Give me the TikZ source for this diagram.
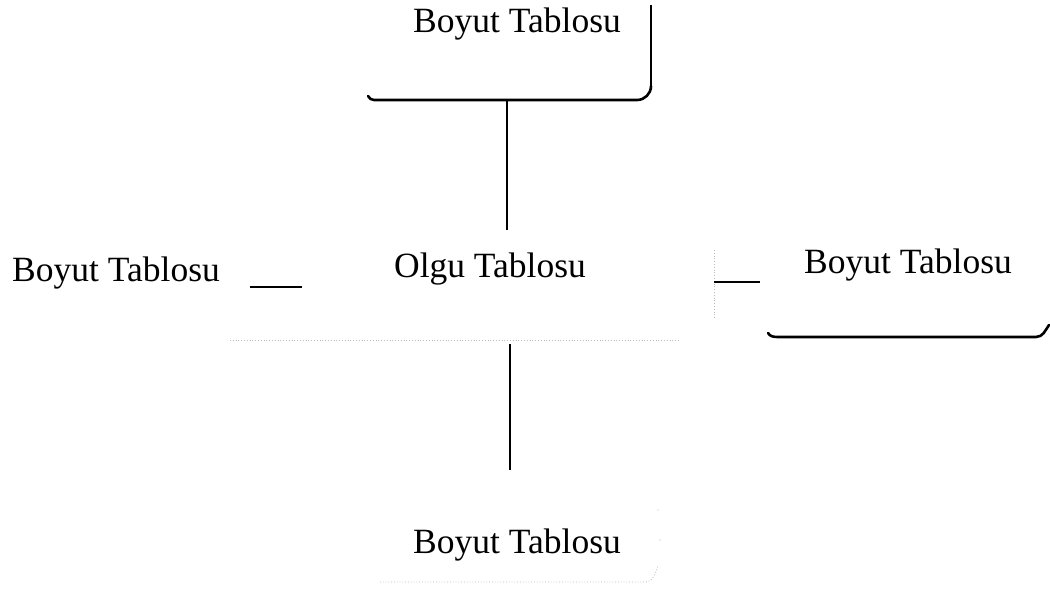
\documentclass[tikz,border=0pt]{standalone}
\usepackage{fontspec}
\setmainfont{Liberation Serif}
\begin{document}
\begin{tikzpicture}[x=1pt,y=-1pt,
  tbl/.style={inner sep=0pt, outer sep=0pt, minimum width=#1},
  lbl/.style={font=\fontsize{35.5}{38}\selectfont, inner sep=0pt},
  link/.style={line width=1.4pt, black},
  shadowedge/.style={line width=2.6pt, black, line cap=round},
  sideedge/.style={line width=1.3pt, black},
  faint/.style={line width=0.8pt, gray!55, dotted}]
\useasboundingbox (0,0) rectangle (1050,589);

% table boxes (outlines drawn partially below)
\node[tbl=288, minimum height=100] (top) at (507,50) {};
\node[tbl=412, minimum height=114] (olgu) at (508,287) {};
\node[tbl=250, minimum height=114] (lbox) at (125,287) {};
\node[tbl=290, minimum height=110] (rbox) at (905,282) {};
\node[tbl=296, minimum height=113] (bot) at (510,526.5) {};

% labels
\node[lbl] (topt) at (517,24) {Boyut Tablosu};
\node[lbl] (olgut) at (490,269) {Olgu Tablosu};
\node[lbl] (lt) at (116,273) {Boyut Tablosu};
\node[lbl] (rt) at (908,265) {Boyut Tablosu};
\node[lbl] (bt) at (517,545) {Boyut Tablosu};

% top table: right edge and shadowed bottom
\draw[sideedge] (651,5) -- (651,86);
\draw[shadowedge] (651,86) arc[start angle=0, end angle=90, radius=14] -- (374,100) to[out=180,in=-60] (368,96);

% right table: shadowed bottom with rounded ends
\draw[shadowedge] (768,333) to[out=-60,in=180] (778,337) -- (1036,337) to[out=0,in=-125] (1049,325);

% fact table: faint dotted outline pieces
\draw[faint] (230,340) -- (680,340);
\draw[faint] (714,250) -- (714,318);

% bottom table: faint dotted bottom edge
\draw[faint] (380,582) -- (645,582) to[out=0,in=-110] (658,566);
\fill[gray!55] (658,510) circle (0.7) (660,540) circle (0.7);

% connectors
\draw[link] (top.south) -- (top.south |- olgu.north);
\draw[link] (olgu.south -| bot.north) -- (bot.north);
\draw[link] (lbox.east) -- (olgu.west);
\draw[link] (olgu.east |- rbox.west) -- (rbox.west);
\end{tikzpicture}
\end{document}
